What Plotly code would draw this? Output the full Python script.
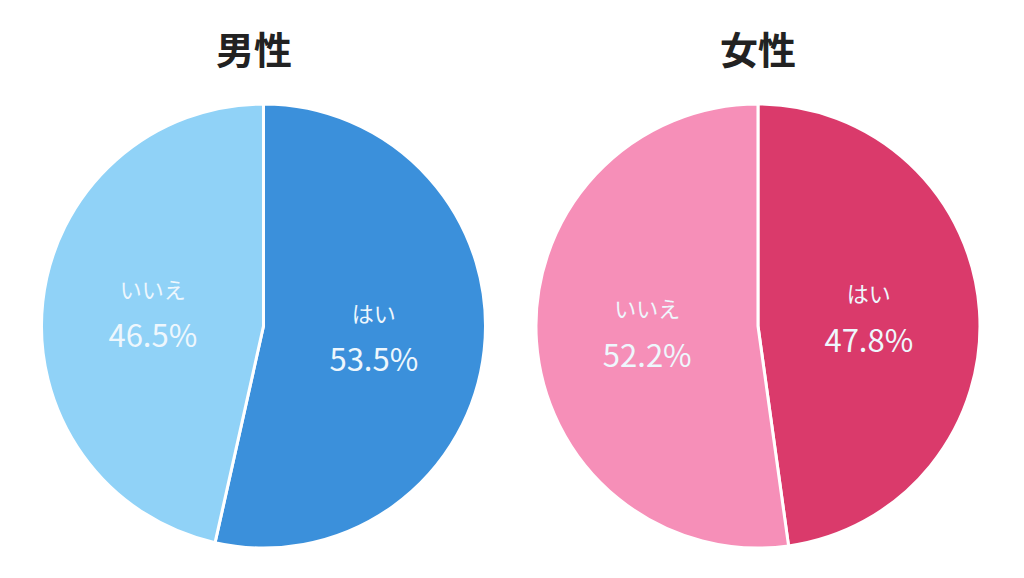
import plotly.graph_objects as go

labels = ["はい", "いいえ"]
male_values = [53.5, 46.5]
female_values = [47.8, 52.2]
titles = ["男性", "女性"]
male_colors = ["#3b90db", "#90d2f7"]
female_colors = ["#da3a6b", "#f68fb8"]

FONT = "Noto Sans CJK JP"
tmpl = ("<span style='font-size:22px'>%{label}</span><br>"
        "<span style='font-size:31px'>%{value:.1f}%</span>")

fig = go.Figure()
for vals, cols, dom in [
    (male_values, male_colors, [0.0327, 0.4663]),
    (female_values, female_colors, [0.5156, 0.9492]),
]:
    fig.add_trace(go.Pie(
        labels=labels, values=vals, sort=False, direction="clockwise", rotation=0,
        marker=dict(colors=cols, line=dict(color="white", width=3)),
        texttemplate=tmpl, textposition="inside", insidetextorientation="horizontal",
        textfont=dict(family=FONT, size=38, color="#eef7fd"),
        hoverinfo="label+percent",
        domain=dict(x=dom, y=[0.0657, 0.8339]),
        showlegend=False,
    ))

for t, x in zip(titles, [245.5 / 1024, 750 / 1024]):
    fig.add_annotation(text=f"<b>{t}</b>", x=x, y=1 - 39.5 / 578, xref="paper", yref="paper",
                       showarrow=False, font=dict(family=FONT, size=38, color="#222222"),
                       xanchor="center", yanchor="middle")

fig.update_layout(width=1024, height=578, margin=dict(l=0, r=0, t=0, b=0),
                  paper_bgcolor="white", plot_bgcolor="white")
fig.write_html("out.html")
